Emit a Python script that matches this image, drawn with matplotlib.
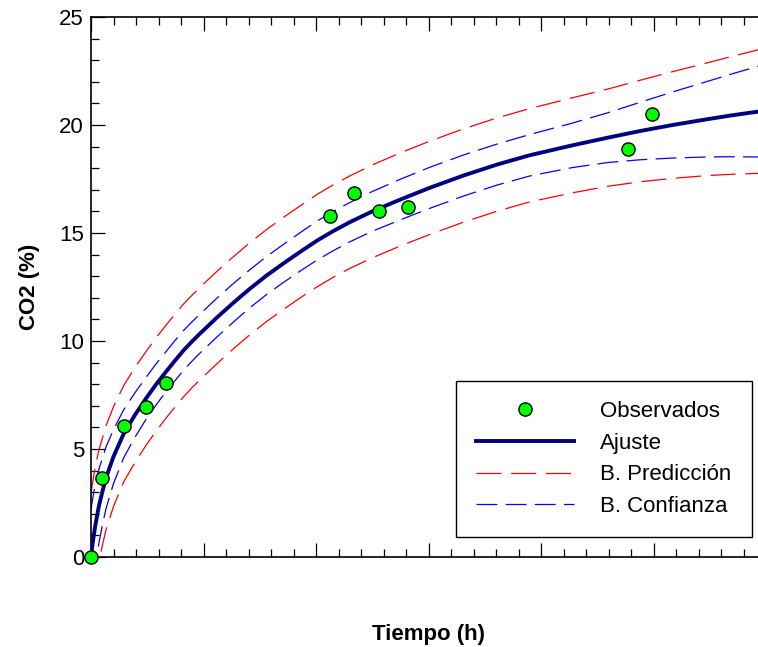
import matplotlib
matplotlib.use("Agg")
import matplotlib.pyplot as plt
from matplotlib.ticker import MultipleLocator

plt.rcParams['font.family'] = ['Liberation Sans', 'DejaVu Sans']
plt.rcParams['lines.scale_dashes'] = False

# observed points
t_obs = [0, 1.0, 2.9, 4.9, 6.7, 21.2, 23.4, 25.6, 28.2, 47.7, 49.9]
co2_obs = [0, 3.66, 6.06, 6.94, 8.06, 15.79, 16.85, 16.02, 16.2, 18.89, 20.51]

# fitted curve and bands
t_fit = [0, 0.1, 0.2, 0.35, 0.5, 0.7, 1.0, 1.33, 2.0, 2.9, 3.9, 4.9, 5.8, 6.7,
         7.4, 8.2, 9.0, 9.7, 11.2, 12.7, 14.1, 15.6, 17.1, 18.6, 20.1, 21.5, 23.0, 25.0,
         27.5, 30.1, 33.1, 36.1, 39.0, 42.8, 45.9, 48.8, 51.7, 54.8, 57.0, 59.3, 60.0]
ajuste = [0, 0.45, 0.83, 1.35, 1.8, 2.35, 3.0, 3.66, 4.65, 5.7, 6.57, 7.35, 8.0, 8.6,
          9.05, 9.55, 9.99, 10.35, 11.09, 11.79, 12.41, 13.03, 13.59, 14.13, 14.65, 15.08, 15.5, 16.0,
          16.55, 17.09, 17.66, 18.17, 18.6, 19.06, 19.41, 19.72, 20.0, 20.27, 20.45, 20.62, 20.67]
conf_sup = [2.2, 2.55, 2.85, 3.27, 3.63, 4.06, 4.55, 5.09, 5.9, 6.81, 7.6, 8.32, 8.95, 9.53,
            9.98, 10.47, 10.9, 11.25, 11.99, 12.68, 13.29, 13.91, 14.47, 15.02, 15.55, 15.99, 16.41, 16.92,
            17.49, 18.04, 18.61, 19.12, 19.56, 20.09, 20.56, 21.05, 21.53, 22.02, 22.37, 22.72, 22.82]
conf_inf = [-2.2, -1.65, -1.19, -0.57, -0.03, 0.64, 1.45, 2.23, 3.4, 4.59, 5.54, 6.38, 7.05, 7.67,
            8.12, 8.63, 9.08, 9.45, 10.19, 10.9, 11.53, 12.15, 12.71, 13.24, 13.75, 14.17, 14.59, 15.08,
            15.61, 16.14, 16.71, 17.22, 17.64, 18.03, 18.26, 18.39, 18.47, 18.52, 18.53, 18.52, 18.52]
pred_sup = [2.93, 3.31, 3.63, 4.08, 4.47, 4.94, 5.48, 6.07, 6.96, 7.93, 8.77, 9.52, 10.16, 10.75,
            11.2, 11.7, 12.13, 12.49, 13.23, 13.92, 14.54, 15.16, 15.72, 16.26, 16.79, 17.22, 17.64, 18.15,
            18.71, 19.25, 19.82, 20.33, 20.76, 21.26, 21.66, 22.07, 22.47, 22.88, 23.18, 23.48, 23.57]
pred_inf = [-2.93, -2.41, -1.97, -1.38, -0.87, -0.24, 0.52, 1.25, 2.34, 3.47, 4.37, 5.18, 5.84, 6.45,
            6.9, 7.4, 7.85, 8.21, 8.95, 9.66, 10.28, 10.9, 11.46, 12.0, 12.51, 12.94, 13.36, 13.85,
            14.4, 14.93, 15.5, 16.01, 16.44, 16.86, 17.16, 17.37, 17.53, 17.66, 17.72, 17.76, 17.78]

fig = plt.figure(figsize=(7.58, 6.47), dpi=100)
ax = fig.add_axes([91 / 758, 90 / 647, 675 / 758, 540 / 647])

red_dash = (0, (18, 7))
blue_dash = (0, (15, 6))
ax.plot(t_fit, pred_sup, color='#ff0000', lw=0.9, linestyle=red_dash, label='B. Predicción', zorder=2)
ax.plot(t_fit, pred_inf, color='#ff0000', lw=0.9, linestyle=red_dash, zorder=2)
ax.plot(t_fit, conf_sup, color='#0000ff', lw=0.9, linestyle=blue_dash, label='B. Confianza', zorder=2)
ax.plot(t_fit, conf_inf, color='#0000ff', lw=0.9, linestyle=blue_dash, zorder=2)
ax.plot(t_fit, ajuste, color='#000080', lw=2.8, label='Ajuste', zorder=3)
ax.plot(t_obs, co2_obs, 'o', color='#00ff00', markeredgecolor='black', markeredgewidth=1,
        markersize=9.5, label='Observados', zorder=5, clip_on=False)

ax.set_xlim(0, 60)
ax.set_ylim(0, 25)
ax.xaxis.set_major_locator(MultipleLocator(10))
ax.xaxis.set_minor_locator(MultipleLocator(2))
ax.yaxis.set_major_locator(MultipleLocator(5))
ax.yaxis.set_minor_locator(MultipleLocator(1))
ax.tick_params(which='both', direction='in', top=True, right=False, width=0.9)
ax.tick_params(which='major', length=10)
ax.tick_params(which='minor', length=5.5)
ax.tick_params(axis='x', labelbottom=False)
ax.tick_params(axis='y', labelsize=16, pad=5)
for s in ax.spines.values():
    s.set_linewidth(1.2)
ax.spines['right'].set_visible(False)

ax.set_ylabel('CO2 (%)', fontsize=16, fontweight='bold')
ax.yaxis.set_label_coords(-0.076, 0.5)
ax.set_xlabel('Tiempo (h)', fontsize=16, fontweight='bold', va='top')
ax.xaxis.set_label_coords(0.5, -0.124)

h, l = ax.get_legend_handles_labels()
order = [3, 2, 0, 1]
leg = ax.legend([h[i] for i in order], [l[i] for i in order], loc='upper left',
                bbox_to_anchor=(0.5407, 0.3259), fontsize=16, handlelength=4.4,
                handletextpad=1.2, labelspacing=0.48, borderpad=0.9, fancybox=False,
                framealpha=1, edgecolor='black', numpoints=1, borderaxespad=0)
leg.get_frame().set_linewidth(1.0)

fig.savefig('out.png', dpi=100)
